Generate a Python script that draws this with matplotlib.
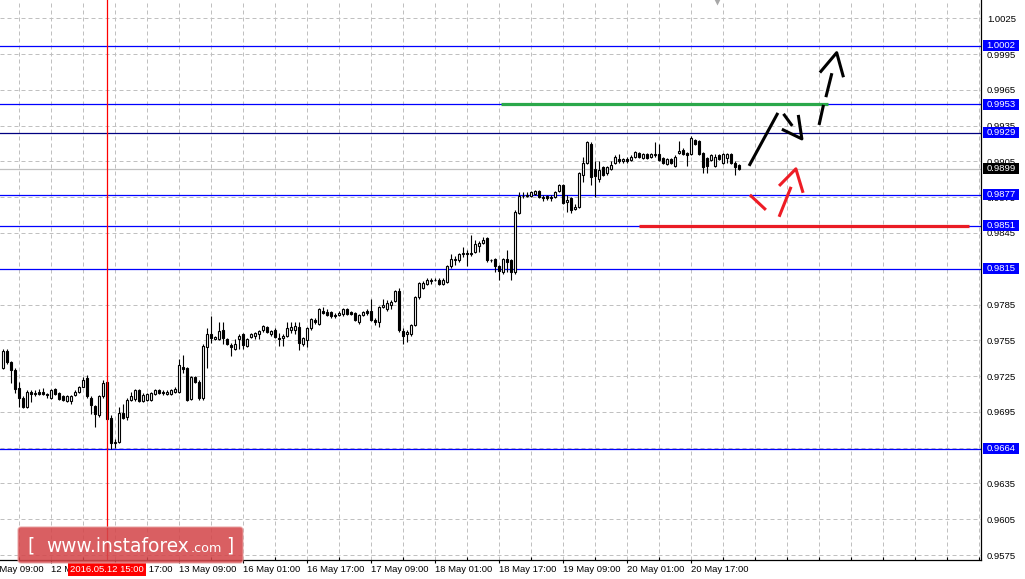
import numpy as np
import matplotlib
matplotlib.use('Agg')
import matplotlib.pyplot as plt
import matplotlib.transforms as mtransforms
from matplotlib.patches import FancyBboxPatch, Rectangle

plt.rcParams['font.family'] = ['Liberation Sans', 'DejaVu Sans']

# ---------------- data (H1 candles) ----------------
opens = [
    0.9732, 0.9746, 0.9737, 0.9730, 0.9715, 0.9707, 0.9699, 0.9712, 0.9710, 0.9712,
    0.9712, 0.9710, 0.9707, 0.9714, 0.9711, 0.9708, 0.9704, 0.9704, 0.9709, 0.9712,
    0.9716, 0.9723, 0.9707, 0.9700, 0.9692, 0.9708, 0.9720, 0.9690, 0.9669, 0.9670,
    0.9694, 0.9691, 0.9705, 0.9706, 0.9713, 0.9704, 0.9705, 0.9705, 0.9710, 0.9713,
    0.9712, 0.9710, 0.9710, 0.9712, 0.9712, 0.9733, 0.9732, 0.9706, 0.9724, 0.9720,
    0.9707, 0.9749, 0.9760, 0.9756, 0.9756, 0.9764, 0.9756, 0.9751, 0.9748, 0.9756,
    0.9760, 0.9750, 0.9758, 0.9759, 0.9760, 0.9764, 0.9766, 0.9760, 0.9764, 0.9757,
    0.9757, 0.9759, 0.9764, 0.9764, 0.9766, 0.9752, 0.9755, 0.9765, 0.9772, 0.9769,
    0.9780, 0.9779, 0.9779, 0.9776, 0.9776, 0.9777, 0.9781, 0.9779, 0.9778, 0.9770,
    0.9776, 0.9780, 0.9780, 0.9772, 0.9770, 0.9783, 0.9781, 0.9785, 0.9788, 0.9796,
    0.9763, 0.9760, 0.9760, 0.9768, 0.9791, 0.9799, 0.9802, 0.9805, 0.9806, 0.9806,
    0.9802, 0.9804, 0.9817, 0.9822, 0.9822, 0.9827, 0.9828, 0.9827, 0.9829, 0.9834,
    0.9837, 0.9841, 0.9822, 0.9823, 0.9817, 0.9812, 0.9823, 0.9822, 0.9812, 0.9862,
    0.9876, 0.9876, 0.9876, 0.9878, 0.9880, 0.9874, 0.9876, 0.9875, 0.9875, 0.9880,
    0.9885, 0.9871, 0.9874, 0.9865, 0.9867, 0.9894, 0.9904, 0.9920, 0.9899, 0.9890,
    0.9900, 0.9895, 0.9899, 0.9904, 0.9907, 0.9905, 0.9907, 0.9906, 0.9909, 0.9912,
    0.9908, 0.9911, 0.9909, 0.9910, 0.9911, 0.9908, 0.9903, 0.9907, 0.9901, 0.9912,
    0.9915, 0.9912, 0.9911, 0.9923, 0.9922, 0.9912, 0.9908, 0.9906, 0.9901, 0.9910,
    0.9904, 0.9908, 0.9911, 0.9904, 0.9902,
]
highs = [
    0.9748, 0.9748, 0.9738, 0.9732, 0.9720, 0.9708, 0.9713, 0.9713, 0.9713, 0.9714,
    0.9715, 0.9711, 0.9714, 0.9715, 0.9712, 0.9709, 0.9709, 0.9709, 0.9713, 0.9717,
    0.9724, 0.9726, 0.9708, 0.9701, 0.9709, 0.9722, 0.9721, 0.9692, 0.9672, 0.9699,
    0.9702, 0.9707, 0.9712, 0.9714, 0.9714, 0.9711, 0.9711, 0.9712, 0.9714, 0.9714,
    0.9713, 0.9713, 0.9714, 0.9716, 0.9739, 0.9743, 0.9733, 0.9725, 0.9725, 0.9722,
    0.9752, 0.9765, 0.9775, 0.9759, 0.9770, 0.9770, 0.9757, 0.9753, 0.9756, 0.9760,
    0.9761, 0.9757, 0.9761, 0.9762, 0.9764, 0.9768, 0.9767, 0.9764, 0.9765, 0.9761,
    0.9760, 0.9770, 0.9770, 0.9770, 0.9770, 0.9758, 0.9766, 0.9774, 0.9774, 0.9782,
    0.9783, 0.9781, 0.9780, 0.9778, 0.9780, 0.9782, 0.9782, 0.9780, 0.9779, 0.9777,
    0.9780, 0.9781, 0.9790, 0.9774, 0.9784, 0.9790, 0.9789, 0.9789, 0.9797, 0.9799,
    0.9765, 0.9764, 0.9769, 0.9792, 0.9804, 0.9805, 0.9807, 0.9807, 0.9807, 0.9807,
    0.9807, 0.9818, 0.9827, 0.9826, 0.9828, 0.9833, 0.9831, 0.9843, 0.9839, 0.9838,
    0.9842, 0.9842, 0.9823, 0.9824, 0.9818, 0.9824, 0.9831, 0.9823, 0.9864, 0.9879,
    0.9879, 0.9879, 0.9880, 0.9881, 0.9881, 0.9877, 0.9877, 0.9877, 0.9880, 0.9886,
    0.9886, 0.9877, 0.9875, 0.9869, 0.9896, 0.9909, 0.9922, 0.9921, 0.9905, 0.9905,
    0.9901, 0.9901, 0.9905, 0.9910, 0.9911, 0.9908, 0.9909, 0.9910, 0.9914, 0.9913,
    0.9912, 0.9912, 0.9912, 0.9921, 0.9920, 0.9909, 0.9908, 0.9908, 0.9910, 0.9922,
    0.9916, 0.9913, 0.9926, 0.9924, 0.9923, 0.9913, 0.9909, 0.9911, 0.9911, 0.9911,
    0.9912, 0.9912, 0.9912, 0.9905, 0.9903,
]
lows = [
    0.9731, 0.9735, 0.9719, 0.9711, 0.9699, 0.9698, 0.9698, 0.9703, 0.9708, 0.9709,
    0.9709, 0.9707, 0.9706, 0.9709, 0.9705, 0.9704, 0.9703, 0.9702, 0.9708, 0.9711,
    0.9716, 0.9707, 0.9693, 0.9682, 0.9691, 0.9707, 0.9688, 0.9664, 0.9665, 0.9669,
    0.9689, 0.9688, 0.9704, 0.9704, 0.9703, 0.9703, 0.9704, 0.9704, 0.9709, 0.9710,
    0.9709, 0.9709, 0.9709, 0.9711, 0.9711, 0.9728, 0.9704, 0.9705, 0.9719, 0.9705,
    0.9705, 0.9732, 0.9753, 0.9755, 0.9755, 0.9752, 0.9751, 0.9742, 0.9747, 0.9748,
    0.9748, 0.9749, 0.9757, 0.9756, 0.9756, 0.9762, 0.9761, 0.9759, 0.9757, 0.9750,
    0.9750, 0.9758, 0.9761, 0.9760, 0.9747, 0.9750, 0.9749, 0.9764, 0.9769, 0.9768,
    0.9777, 0.9775, 0.9774, 0.9774, 0.9775, 0.9775, 0.9776, 0.9776, 0.9771, 0.9769,
    0.9775, 0.9776, 0.9771, 0.9768, 0.9766, 0.9782, 0.9780, 0.9781, 0.9787, 0.9762,
    0.9752, 0.9754, 0.9759, 0.9767, 0.9790, 0.9798, 0.9801, 0.9802, 0.9805, 0.9801,
    0.9801, 0.9803, 0.9816, 0.9818, 0.9821, 0.9825, 0.9817, 0.9826, 0.9828, 0.9829,
    0.9836, 0.9821, 0.9821, 0.9812, 0.9806, 0.9811, 0.9812, 0.9806, 0.9811, 0.9861,
    0.9874, 0.9875, 0.9875, 0.9877, 0.9874, 0.9872, 0.9873, 0.9872, 0.9874, 0.9879,
    0.9869, 0.9863, 0.9862, 0.9864, 0.9866, 0.9888, 0.9903, 0.9885, 0.9875, 0.9888,
    0.9893, 0.9894, 0.9898, 0.9903, 0.9904, 0.9904, 0.9904, 0.9905, 0.9908, 0.9908,
    0.9907, 0.9907, 0.9908, 0.9909, 0.9905, 0.9903, 0.9902, 0.9903, 0.9900, 0.9911,
    0.9910, 0.9901, 0.9910, 0.9919, 0.9910, 0.9895, 0.9895, 0.9905, 0.9900, 0.9906,
    0.9903, 0.9904, 0.9903, 0.9894, 0.9898,
]
closes = [
    0.9746, 0.9737, 0.9730, 0.9714, 0.9707, 0.9699, 0.9712, 0.9710, 0.9711, 0.9710,
    0.9710, 0.9709, 0.9713, 0.9710, 0.9706, 0.9705, 0.9708, 0.9708, 0.9712, 0.9716,
    0.9722, 0.9708, 0.9701, 0.9693, 0.9708, 0.9719, 0.9689, 0.9669, 0.9670, 0.9694,
    0.9690, 0.9705, 0.9708, 0.9713, 0.9704, 0.9709, 0.9710, 0.9711, 0.9713, 0.9711,
    0.9711, 0.9712, 0.9713, 0.9714, 0.9734, 0.9731, 0.9705, 0.9724, 0.9720, 0.9707,
    0.9750, 0.9760, 0.9757, 0.9758, 0.9763, 0.9757, 0.9752, 0.9749, 0.9752, 0.9759,
    0.9751, 0.9756, 0.9760, 0.9761, 0.9763, 0.9767, 0.9762, 0.9763, 0.9758, 0.9756,
    0.9759, 0.9765, 0.9766, 0.9767, 0.9753, 0.9757, 0.9765, 0.9773, 0.9770, 0.9781,
    0.9778, 0.9776, 0.9775, 0.9775, 0.9778, 0.9781, 0.9777, 0.9777, 0.9772, 0.9776,
    0.9779, 0.9778, 0.9772, 0.9770, 0.9783, 0.9785, 0.9786, 0.9787, 0.9796, 0.9764,
    0.9759, 0.9762, 0.9768, 0.9791, 0.9803, 0.9803, 0.9806, 0.9806, 0.9806, 0.9802,
    0.9806, 0.9817, 0.9823, 0.9823, 0.9827, 0.9828, 0.9827, 0.9828, 0.9836, 0.9837,
    0.9839, 0.9822, 0.9822, 0.9817, 0.9813, 0.9823, 0.9821, 0.9812, 0.9863, 0.9876,
    0.9876, 0.9877, 0.9879, 0.9880, 0.9875, 0.9875, 0.9874, 0.9874, 0.9879, 0.9885,
    0.9870, 0.9873, 0.9864, 0.9867, 0.9895, 0.9904, 0.9921, 0.9892, 0.9893, 0.9898,
    0.9894, 0.9900, 0.9902, 0.9909, 0.9905, 0.9907, 0.9905, 0.9909, 0.9913, 0.9909,
    0.9911, 0.9908, 0.9911, 0.9911, 0.9906, 0.9904, 0.9907, 0.9904, 0.9909, 0.9914,
    0.9911, 0.9910, 0.9925, 0.9920, 0.9911, 0.9900, 0.9901, 0.9910, 0.9909, 0.9907,
    0.9911, 0.9911, 0.9904, 0.9900, 0.9899,
]

price_ticks = [0.9575, 0.9605, 0.9635, 0.9665, 0.9695, 0.9725, 0.9755, 0.9785,
               0.9815, 0.9845, 0.9875, 0.9905, 0.9935, 0.9965, 0.9995, 1.0025]
date_bars = [-4, 12, 28, 44, 60, 76, 92, 108, 124, 140, 156, 172]
date_labels = ["11 May 09:00", "12 May 01:00", "12 May 17:00", "13 May 09:00",
               "16 May 01:00", "16 May 17:00", "17 May 09:00", "18 May 01:00",
               "18 May 17:00", "19 May 09:00", "20 May 01:00", "20 May 17:00"]
grid_bars = [4 + 8 * i for i in range(31)]

level_values = [1.0002, 0.9953, 0.9929, 0.9877, 0.9851, 0.9815, 0.9664]
current_price = 0.9899
marker_bar = 26
marker_label = "2016.05.12 15:00"
resistance_level = 0.9953
support_level = 0.9851

# ---------------- figure ----------------
W, H = 1025, 579
fig = plt.figure(figsize=(W / 100, H / 100), dpi=100, facecolor='white')
ax = fig.add_axes([0, 19 / H, 981 / W, 560 / H])
ax.set_xlim(-0.6675, 244.58)
ax.set_ylim(0.957081, 1.004037)
ax.set_facecolor('white')

for s in ['top', 'left']:
    ax.spines[s].set_visible(False)
for s in ['right', 'bottom']:
    ax.spines[s].set_linewidth(0.9)
    ax.spines[s].set_color('black')

# grid
grid_kw = dict(color='#c0c0c0', lw=0.72, ls=(0, (4, 3)), zorder=0.5)
for g in grid_bars:
    ax.axvline(g, **grid_kw)
for p in price_ticks:
    ax.axhline(p, **grid_kw)

# y axis on right
ax.yaxis.tick_right()
ax.set_yticks(price_ticks)
ax.set_yticklabels([f'{v:.4f}' for v in price_ticks], fontsize=6.8)
ax.tick_params(axis='y', length=0, pad=4.3)

# x axis ticks
major = [b for b in date_bars if b >= 0]
minor = [g for g in grid_bars if g not in major]
ax.set_xticks(major)
ax.set_xticks(minor, minor=True)
ax.set_xticklabels([l for b, l in zip(date_bars, date_labels) if b >= 0],
                   ha='left', fontsize=6.8)
ax.tick_params(axis='x', which='major', direction='out', length=2.4, width=0.8, pad=1.3)
ax.tick_params(axis='x', which='minor', direction='in', length=2.4, width=0.8)
for b, l in zip(date_bars, date_labels):
    if b < 0:
        ax.annotate(l, xy=(b, 0), xycoords=('data', 'axes fraction'),
                    xytext=(0, -3.7), textcoords='offset points', ha='left',
                    va='top', fontsize=6.8, annotation_clip=False)

# level lines
level_colors = {0.9929: '#000080'}
for lv in level_values:
    ax.axhline(lv, color=level_colors.get(lv, '#0000ff'), lw=0.9, zorder=2)
ax.axhline(current_price, color='#c0c0c0', lw=0.9, zorder=1.5)

# candles
x = np.arange(len(opens))
o = np.array(opens); h = np.array(highs); l = np.array(lows); c = np.array(closes)
ax.vlines(x, l, h, color='black', lw=0.8, zorder=3)
bottoms = np.minimum(o, c)
heights = np.abs(c - o)
fills = ['white' if cc >= oo else 'black' for oo, cc in zip(o, c)]
ax.bar(x, heights, bottom=bottoms, width=0.55, color=fills, edgecolor='black',
       linewidth=0.8, zorder=4)

# red vertical marker line
ax.axvline(marker_bar, color='#ff0000', lw=0.9, zorder=5)
ax.annotate(marker_label, xy=(marker_bar, 0), xycoords=('data', 'axes fraction'),
            xytext=(0, -3.7), textcoords='offset points', ha='center', va='top',
            fontsize=6.8, color='white', zorder=20, annotation_clip=False,
            bbox=dict(boxstyle='square,pad=0.22', fc='#ff0000', ec='none'))

# price label boxes on right axis
trans = mtransforms.blended_transform_factory(ax.transAxes, ax.transData)
px = (ax.get_ylim()[1] - ax.get_ylim()[0]) / 560.0
for lv in level_values + [current_price]:
    fc = '#000000' if lv == current_price else '#0000ff'
    ax.add_patch(Rectangle((1 + 2 / 981, lv - 5.5 * px), 36 / 981, 11 * px,
                           transform=trans, fc=fc, ec='none', clip_on=False, zorder=15))
    ax.text(1 + 20 / 981, lv, f'{lv:.4f}', transform=trans, ha='center', va='center',
            color='white', fontsize=6.8, clip_on=False, zorder=16)

# support / resistance segments
ax.hlines(resistance_level, 124.6, 206.3, color='#2aa84a', lw=2.3, zorder=6)
ax.hlines(support_level, 159.1, 241.6, color='#ea1c24', lw=2.3, zorder=6)

# drawn arrows (black scenario)
blk = dict(color='black', lw=2.2, zorder=7, solid_capstyle='butt')
ax.plot([186.6, 193.8], [0.99013, 0.99457], **blk)
ax.plot([195.2, 197.4], [0.99449, 0.99348], **blk)
ax.plot([194.8, 199.8, 198.9], [0.99320, 0.99239, 0.99440], **blk)
ax.plot([204.1, 205.2], [0.99356, 0.99524], **blk)
ax.plot([205.8, 207.3], [0.99589, 0.99790], **blk)
ax.plot([204.3, 208.5, 210.2], [0.99795, 0.99962, 0.99756], **blk)
# drawn arrows (red scenario)
red = dict(color='#ee1c25', lw=2.2, zorder=7, solid_capstyle='butt')
ax.plot([186.8, 190.8], [0.98770, 0.98644], **red)
ax.plot([194.1, 197.1], [0.98586, 0.98837], **red)
ax.plot([194.1, 198.3, 200.1], [0.98845, 0.98988, 0.98787], **red)

# small gray marker at top
ax.plot([178.6], [1.0], marker='v', ms=7, color='#a8a8a8', mec='none',
        transform=mtransforms.blended_transform_factory(ax.transData, ax.transAxes),
        clip_on=False, zorder=8)

# watermark
ident = mtransforms.IdentityTransform()
fig.add_artist(FancyBboxPatch((18, H - 563), 225, 36,
                              boxstyle='round,pad=0,rounding_size=3',
                              transform=ident, fc='#d4494c', ec='#e8a0a0',
                              lw=0.8, alpha=0.88, zorder=30))
base = H - 552
fig.text(27 / W, base / H, '[', color='white', fontsize=13.4, va='baseline',
         family='DejaVu Sans', zorder=31)
fig.text(46 / W, base / H, 'www.instaforex', color='white', fontsize=13.4,
         va='baseline', family='DejaVu Sans', zorder=31)
fig.text(191 / W, base / H, '.com', color='white', fontsize=9.2,
         va='baseline', family='DejaVu Sans', zorder=31)
fig.text(226 / W, base / H, ']', color='white', fontsize=13.4, va='baseline',
         family='DejaVu Sans', zorder=31)

fig.savefig('out.png', dpi=100, facecolor='white')
